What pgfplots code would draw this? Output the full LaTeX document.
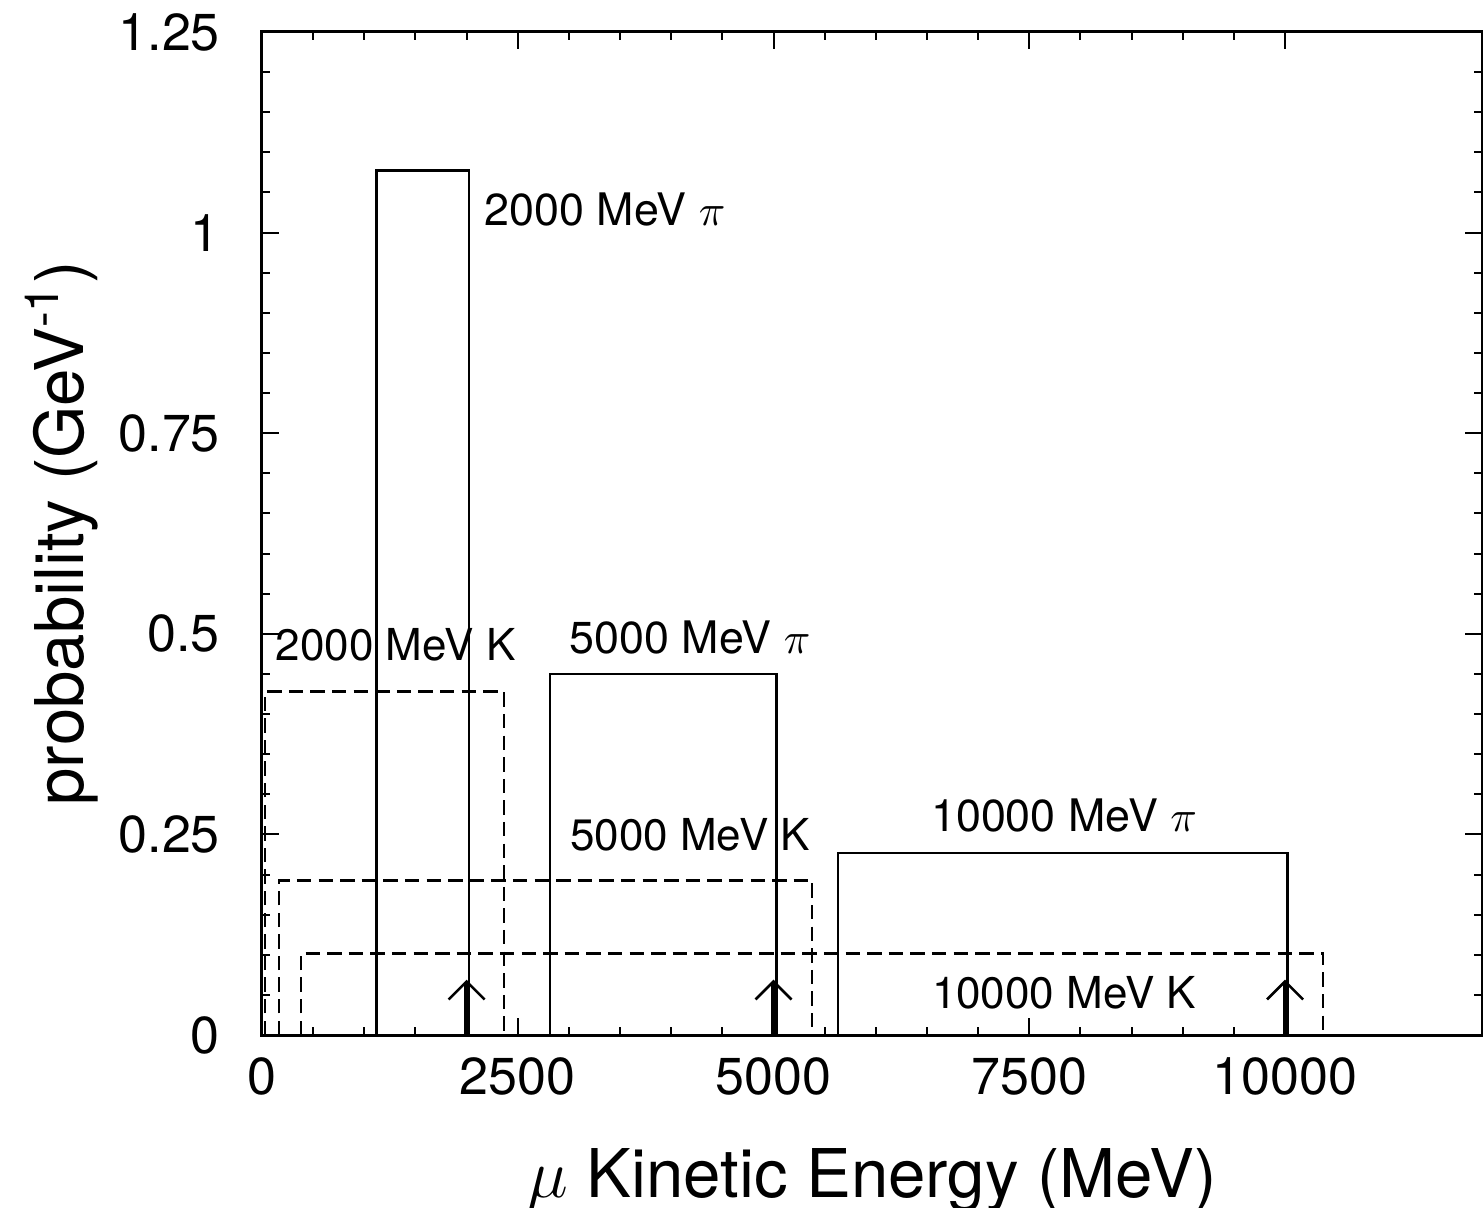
\documentclass[border=0pt]{standalone}
\usepackage{pgfplots}
\pgfplotsset{compat=1.18}
\usepackage{fontspec}
\setmainfont{TeX Gyre Heros}
\usetikzlibrary{arrows.meta}
\begin{document}
\begin{tikzpicture}
\begin{axis}[
  scale only axis,
  width=305pt, height=250.75pt,
  xmin=0, xmax=11925, ymin=0, ymax=1.25,
  xtick={0,2500,5000,7500,10000},
  ytick={0,0.25,0.5,0.75,1,1.25},
  yticklabels={0,0.25,0.5,0.75,1,1.25},
  xticklabels={0,2500,5000,7500,10000},
  minor x tick num=4, minor y tick num=4,
  tick align=inside,
  major tick length=4.2pt, minor tick length=2pt,
  every tick/.style={black, line width=0.5pt},
  axis line style={line width=0.75pt},
  tick label style={font=\fontsize{13}{15}\selectfont},
  yticklabel style={xshift=-7pt},
  xticklabel style={yshift=-2pt},
  scaled x ticks=false, scaled y ticks=false,
  /pgf/number format/assume math mode=true,
  xlabel={$\mu$ Kinetic Energy (MeV)},
  ylabel={probability (GeV\textsuperscript{-1})},
  every axis x label/.style={at={(axis description cs:0.5,-0.1446)}, anchor=center, font=\fontsize{16.8}{19}\selectfont},
  every axis y label/.style={at={(axis description cs:-0.1640,0.5)}, anchor=center, rotate=90, font=\fontsize{16.8}{19}\selectfont},
  clip=false,
]
% pion boxes (solid)
\addplot[black, line width=0.65pt] coordinates {(1120,0) (1120,1.077) (2025,1.077) (2025,0)};
\addplot[black, line width=0.65pt] coordinates {(2815,0) (2815,0.450) (5030,0.450) (5030,0)};
\addplot[black, line width=0.65pt] coordinates {(5630,0) (5630,0.227) (10025,0.227) (10025,0)};
% kaon boxes (dashed)
\addplot[black, line width=0.7pt, dash pattern=on 3.6pt off 1.8pt] coordinates {(30,0) (30,0.428) (2366,0.428) (2366,0)};
\addplot[black, line width=0.7pt, dash pattern=on 3.6pt off 1.8pt] coordinates {(166,0) (166,0.193) (5376,0.193) (5376,0)};
\addplot[black, line width=0.7pt, dash pattern=on 3.6pt off 1.8pt] coordinates {(381,0) (381,0.102) (10371,0.102) (10371,0)};
% arrows
\addplot[black, line width=1.1pt, -{Straight Barb[length=4.5pt,width=9pt,line width=0.65pt]}] coordinates {(2000,0) (2000,0.069)};
\addplot[black, line width=1.1pt, -{Straight Barb[length=4.5pt,width=9pt,line width=0.65pt]}] coordinates {(5000,0) (5000,0.069)};
\addplot[black, line width=1.1pt, -{Straight Barb[length=4.5pt,width=9pt,line width=0.65pt]}] coordinates {(10000,0) (10000,0.069)};
% labels
\node[anchor=west, font=\fontsize{11.2}{13}\selectfont, inner sep=0pt] at (axis cs:2170,1.029) {2000 MeV $\pi$};
\node[anchor=west, font=\fontsize{11}{13}\selectfont, inner sep=0pt] at (axis cs:127,0.486) {2000 MeV K};
\node[anchor=center, font=\fontsize{11.2}{13}\selectfont, inner sep=0pt] at (axis cs:4184,0.496) {5000 MeV $\pi$};
\node[anchor=center, font=\fontsize{11}{13}\selectfont, inner sep=0pt] at (axis cs:4184,0.249) {5000 MeV K};
\node[anchor=center, font=\fontsize{11.2}{13}\selectfont, inner sep=0pt] at (axis cs:7840,0.274) {10000 MeV $\pi$};
\node[anchor=center, font=\fontsize{11}{13}\selectfont, inner sep=0pt] at (axis cs:7840,0.052) {10000 MeV K};
\end{axis}
\pgfresetboundingbox
\path[use as bounding box] (-65.5pt,-43pt) rectangle (305.25pt,258.75pt);
\end{tikzpicture}
\end{document}
